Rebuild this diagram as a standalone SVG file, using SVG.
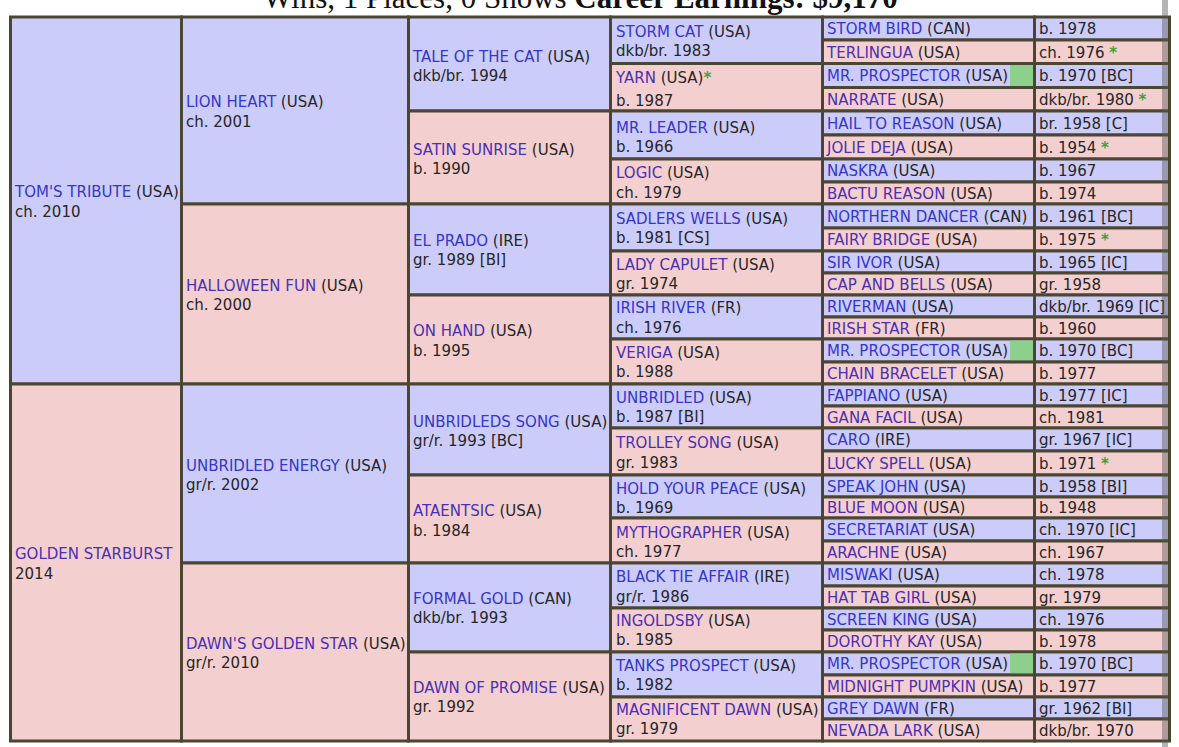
<svg xmlns="http://www.w3.org/2000/svg" width="1179" height="747" viewBox="0 0 1179 747">
<style>
rect.b{fill:#ccccfb;stroke:#4a4632;stroke-width:3}
rect.p{fill:#f4cfcf;stroke:#4a4632;stroke-width:3}
rect.g{fill:#8dcf8d;stroke:none}
text{font-family:"DejaVu Sans",Verdana,sans-serif;font-size:15px;fill:#262626}
.nb{fill:#3636c8}
.np{fill:#4a30b4}
.s{fill:#3f9f3f;font-weight:bold}
.t{font-family:"Liberation Serif","Times New Roman",serif;font-size:31px;fill:#111}
</style>
<rect width="1179" height="747" fill="#ffffff"/>
<text class="t" x="263" y="8">Wins, 1 Places, 0 Shows <tspan font-weight="bold">Career Earnings: $9,170</tspan></text>

<g id="gen1">
<g id="toms-tribute"><rect class="b" x="10.5" y="17" width="171" height="367"/><text x="15" y="196.5"><tspan class="nb">TOM'S TRIBUTE</tspan> (USA)</text><text x="15" y="216.5">ch. 2010</text></g>
<g id="golden-starburst"><rect class="p" x="10.5" y="384" width="171" height="357"/><text x="15" y="558.5"><tspan class="np">GOLDEN STARBURST</tspan></text><text x="15" y="578.5">2014</text></g>
</g>

<g id="gen2">
<g id="lion-heart"><rect class="b" x="181.5" y="17" width="227" height="187"/><text x="186" y="106.5"><tspan class="nb">LION HEART</tspan> (USA)</text><text x="186" y="126.5">ch. 2001</text></g>
<g id="halloween-fun"><rect class="p" x="181.5" y="204" width="227" height="180"/><text x="186" y="290.5"><tspan class="np">HALLOWEEN FUN</tspan> (USA)</text><text x="186" y="309.5">ch. 2000</text></g>
<g id="unbridled-energy"><rect class="b" x="181.5" y="384" width="227" height="179"/><text x="186" y="470.5"><tspan class="nb">UNBRIDLED ENERGY</tspan> (USA)</text><text x="186" y="489.5">gr/r. 2002</text></g>
<g id="dawns-golden-star"><rect class="p" x="181.5" y="563" width="227" height="178"/><text x="186" y="648.5"><tspan class="np">DAWN'S GOLDEN STAR</tspan> (USA)</text><text x="186" y="667.5">gr/r. 2010</text></g>
</g>

<g id="gen3">
<g id="tale-of-the-cat"><rect class="b" x="408.5" y="17" width="202" height="94"/><text x="413" y="61.5"><tspan class="nb">TALE OF THE CAT</tspan> (USA)</text><text x="413" y="80.5">dkb/br. 1994</text></g>
<g id="satin-sunrise"><rect class="p" x="408.5" y="111" width="202" height="93"/><text x="413" y="154.5"><tspan class="np">SATIN SUNRISE</tspan> (USA)</text><text x="413" y="173.5">b. 1990</text></g>
<g id="el-prado"><rect class="b" x="408.5" y="204" width="202" height="91"/><text x="413" y="245.5"><tspan class="nb">EL PRADO</tspan> (IRE)</text><text x="413" y="264.5">gr. 1989 [BI]</text></g>
<g id="on-hand"><rect class="p" x="408.5" y="295" width="202" height="89"/><text x="413" y="335.5"><tspan class="np">ON HAND</tspan> (USA)</text><text x="413" y="355.5">b. 1995</text></g>
<g id="unbridleds-song"><rect class="b" x="408.5" y="384" width="202" height="91"/><text x="413" y="426.5"><tspan class="nb">UNBRIDLEDS SONG</tspan> (USA)</text><text x="413" y="445.5">gr/r. 1993 [BC]</text></g>
<g id="ataentsic"><rect class="p" x="408.5" y="475" width="202" height="88"/><text x="413" y="515.5"><tspan class="np">ATAENTSIC</tspan> (USA)</text><text x="413" y="535.5">b. 1984</text></g>
<g id="formal-gold"><rect class="b" x="408.5" y="563" width="202" height="89"/><text x="413" y="603.5"><tspan class="nb">FORMAL GOLD</tspan> (CAN)</text><text x="413" y="622.5">dkb/br. 1993</text></g>
<g id="dawn-of-promise"><rect class="p" x="408.5" y="652" width="202" height="89"/><text x="413" y="692.5"><tspan class="np">DAWN OF PROMISE</tspan> (USA)</text><text x="413" y="711.5">gr. 1992</text></g>
</g>

<g id="gen4">
<g id="storm-cat"><rect class="b" x="610.5" y="17" width="212" height="46.5"/><text x="616" y="36.5"><tspan class="nb">STORM CAT</tspan> (USA)</text><text x="616" y="55.5">dkb/br. 1983</text></g>
<g id="yarn"><rect class="p" x="610.5" y="63.5" width="212" height="47.5"/><text x="616" y="82.5"><tspan class="np">YARN</tspan> (USA)<tspan class="s">*</tspan></text><text x="616" y="105.5">b. 1987</text></g>
<g id="mr-leader"><rect class="b" x="610.5" y="111" width="212" height="48"/><text x="616" y="132.5"><tspan class="nb">MR. LEADER</tspan> (USA)</text><text x="616" y="151.5">b. 1966</text></g>
<g id="logic"><rect class="p" x="610.5" y="159" width="212" height="45"/><text x="616" y="177.5"><tspan class="np">LOGIC</tspan> (USA)</text><text x="616" y="197.5">ch. 1979</text></g>
<g id="sadlers-wells"><rect class="b" x="610.5" y="204" width="212" height="47"/><text x="616" y="223.5"><tspan class="nb">SADLERS WELLS</tspan> (USA)</text><text x="616" y="242.5">b. 1981 [CS]</text></g>
<g id="lady-capulet"><rect class="p" x="610.5" y="251" width="212" height="44"/><text x="616" y="269.5"><tspan class="np">LADY CAPULET</tspan> (USA)</text><text x="616" y="288.5">gr. 1974</text></g>
<g id="irish-river"><rect class="b" x="610.5" y="295" width="212" height="44"/><text x="616" y="312.5"><tspan class="nb">IRISH RIVER</tspan> (FR)</text><text x="616" y="332.5">ch. 1976</text></g>
<g id="veriga"><rect class="p" x="610.5" y="339" width="212" height="45"/><text x="616" y="357.5"><tspan class="np">VERIGA</tspan> (USA)</text><text x="616" y="376.5">b. 1988</text></g>
<g id="unbridled"><rect class="b" x="610.5" y="384" width="212" height="44"/><text x="616" y="402.5"><tspan class="nb">UNBRIDLED</tspan> (USA)</text><text x="616" y="421.5">b. 1987 [BI]</text></g>
<g id="trolley-song"><rect class="p" x="610.5" y="428" width="212" height="47"/><text x="616" y="447.5"><tspan class="np">TROLLEY SONG</tspan> (USA)</text><text x="616" y="467.5">gr. 1983</text></g>
<g id="hold-your-peace"><rect class="b" x="610.5" y="475" width="212" height="43"/><text x="616" y="493.5"><tspan class="nb">HOLD YOUR PEACE</tspan> (USA)</text><text x="616" y="512.5">b. 1969</text></g>
<g id="mythographer"><rect class="p" x="610.5" y="518" width="212" height="45"/><text x="616" y="537.5"><tspan class="np">MYTHOGRAPHER</tspan> (USA)</text><text x="616" y="556.5">ch. 1977</text></g>
<g id="black-tie-affair"><rect class="b" x="610.5" y="563" width="212" height="45"/><text x="616" y="581.5"><tspan class="nb">BLACK TIE AFFAIR</tspan> (IRE)</text><text x="616" y="601.5">gr/r. 1986</text></g>
<g id="ingoldsby"><rect class="p" x="610.5" y="608" width="212" height="44"/><text x="616" y="625.5"><tspan class="np">INGOLDSBY</tspan> (USA)</text><text x="616" y="644.5">b. 1985</text></g>
<g id="tanks-prospect"><rect class="b" x="610.5" y="652" width="212" height="45"/><text x="616" y="670.5"><tspan class="nb">TANKS PROSPECT</tspan> (USA)</text><text x="616" y="689.5">b. 1982</text></g>
<g id="magnificent-dawn"><rect class="p" x="610.5" y="697" width="212" height="44"/><text x="616" y="714.5"><tspan class="np">MAGNIFICENT DAWN</tspan> (USA)</text><text x="616" y="733.5">gr. 1979</text></g>
</g>

<g id="gen5">
<g id="storm-bird"><rect class="b" x="822.5" y="17" width="212" height="23"/><rect class="b" x="1034.5" y="17" width="135" height="23"/><text x="827" y="34"><tspan class="nb">STORM BIRD</tspan> (CAN)</text><text x="1039" y="34">b. 1978</text></g>
<g id="terlingua"><rect class="p" x="822.5" y="40" width="212" height="23.5"/><rect class="p" x="1034.5" y="40" width="135" height="23.5"/><text x="827" y="57.5"><tspan class="np">TERLINGUA</tspan> (USA)</text><text x="1039" y="57.5">ch. 1976 <tspan class="s">*</tspan></text></g>
<g id="mr-prospector-1"><rect class="b" x="822.5" y="63.5" width="212" height="24"/><rect class="g" x="1010" y="65" width="23" height="21"/><rect class="b" x="1034.5" y="63.5" width="135" height="24"/><text x="827" y="81"><tspan class="nb">MR. PROSPECTOR</tspan> (USA)</text><text x="1039" y="81">b. 1970 [BC]</text></g>
<g id="narrate"><rect class="p" x="822.5" y="87.5" width="212" height="23.5"/><rect class="p" x="1034.5" y="87.5" width="135" height="23.5"/><text x="827" y="105"><tspan class="np">NARRATE</tspan> (USA)</text><text x="1039" y="105">dkb/br. 1980 <tspan class="s">*</tspan></text></g>
<g id="hail-to-reason"><rect class="b" x="822.5" y="111" width="212" height="24"/><rect class="b" x="1034.5" y="111" width="135" height="24"/><text x="827" y="128.5"><tspan class="nb">HAIL TO REASON</tspan> (USA)</text><text x="1039" y="128.5">br. 1958 [C]</text></g>
<g id="jolie-deja"><rect class="p" x="822.5" y="135" width="212" height="24"/><rect class="p" x="1034.5" y="135" width="135" height="24"/><text x="827" y="152.5"><tspan class="np">JOLIE DEJA</tspan> (USA)</text><text x="1039" y="152.5">b. 1954 <tspan class="s">*</tspan></text></g>
<g id="naskra"><rect class="b" x="822.5" y="159" width="212" height="23"/><rect class="b" x="1034.5" y="159" width="135" height="23"/><text x="827" y="176"><tspan class="nb">NASKRA</tspan> (USA)</text><text x="1039" y="176">b. 1967</text></g>
<g id="bactu-reason"><rect class="p" x="822.5" y="182" width="212" height="22"/><rect class="p" x="1034.5" y="182" width="135" height="22"/><text x="827" y="198.5"><tspan class="np">BACTU REASON</tspan> (USA)</text><text x="1039" y="198.5">b. 1974</text></g>
<g id="northern-dancer"><rect class="b" x="822.5" y="204" width="212" height="24"/><rect class="b" x="1034.5" y="204" width="135" height="24"/><text x="827" y="221.5"><tspan class="nb">NORTHERN DANCER</tspan> (CAN)</text><text x="1039" y="221.5">b. 1961 [BC]</text></g>
<g id="fairy-bridge"><rect class="p" x="822.5" y="228" width="212" height="23"/><rect class="p" x="1034.5" y="228" width="135" height="23"/><text x="827" y="245"><tspan class="np">FAIRY BRIDGE</tspan> (USA)</text><text x="1039" y="245">b. 1975 <tspan class="s">*</tspan></text></g>
<g id="sir-ivor"><rect class="b" x="822.5" y="251" width="212" height="22"/><rect class="b" x="1034.5" y="251" width="135" height="22"/><text x="827" y="267.5"><tspan class="nb">SIR IVOR</tspan> (USA)</text><text x="1039" y="267.5">b. 1965 [IC]</text></g>
<g id="cap-and-bells"><rect class="p" x="822.5" y="273" width="212" height="22"/><rect class="p" x="1034.5" y="273" width="135" height="22"/><text x="827" y="289.5"><tspan class="np">CAP AND BELLS</tspan> (USA)</text><text x="1039" y="289.5">gr. 1958</text></g>
<g id="riverman"><rect class="b" x="822.5" y="295" width="212" height="22"/><rect class="b" x="1034.5" y="295" width="135" height="22"/><text x="827" y="311.5"><tspan class="nb">RIVERMAN</tspan> (USA)</text><text x="1039" y="311.5">dkb/br. 1969 [IC]</text></g>
<g id="irish-star"><rect class="p" x="822.5" y="317" width="212" height="22"/><rect class="p" x="1034.5" y="317" width="135" height="22"/><text x="827" y="333.5"><tspan class="np">IRISH STAR</tspan> (FR)</text><text x="1039" y="333.5">b. 1960</text></g>
<g id="mr-prospector-2"><rect class="b" x="822.5" y="339" width="212" height="23"/><rect class="g" x="1010" y="340.5" width="23" height="20"/><rect class="b" x="1034.5" y="339" width="135" height="23"/><text x="827" y="356"><tspan class="nb">MR. PROSPECTOR</tspan> (USA)</text><text x="1039" y="356">b. 1970 [BC]</text></g>
<g id="chain-bracelet"><rect class="p" x="822.5" y="362" width="212" height="22"/><rect class="p" x="1034.5" y="362" width="135" height="22"/><text x="827" y="378.5"><tspan class="np">CHAIN BRACELET</tspan> (USA)</text><text x="1039" y="378.5">b. 1977</text></g>
<g id="fappiano"><rect class="b" x="822.5" y="384" width="212" height="22"/><rect class="b" x="1034.5" y="384" width="135" height="22"/><text x="827" y="400.5"><tspan class="nb">FAPPIANO</tspan> (USA)</text><text x="1039" y="400.5">b. 1977 [IC]</text></g>
<g id="gana-facil"><rect class="p" x="822.5" y="406" width="212" height="22"/><rect class="p" x="1034.5" y="406" width="135" height="22"/><text x="827" y="422.5"><tspan class="np">GANA FACIL</tspan> (USA)</text><text x="1039" y="422.5">ch. 1981</text></g>
<g id="caro"><rect class="b" x="822.5" y="428" width="212" height="23"/><rect class="b" x="1034.5" y="428" width="135" height="23"/><text x="827" y="445"><tspan class="nb">CARO</tspan> (IRE)</text><text x="1039" y="445">gr. 1967 [IC]</text></g>
<g id="lucky-spell"><rect class="p" x="822.5" y="451" width="212" height="24"/><rect class="p" x="1034.5" y="451" width="135" height="24"/><text x="827" y="468.5"><tspan class="np">LUCKY SPELL</tspan> (USA)</text><text x="1039" y="468.5">b. 1971 <tspan class="s">*</tspan></text></g>
<g id="speak-john"><rect class="b" x="822.5" y="475" width="212" height="22"/><rect class="b" x="1034.5" y="475" width="135" height="22"/><text x="827" y="491.5"><tspan class="nb">SPEAK JOHN</tspan> (USA)</text><text x="1039" y="491.5">b. 1958 [BI]</text></g>
<g id="blue-moon"><rect class="p" x="822.5" y="497" width="212" height="21"/><rect class="p" x="1034.5" y="497" width="135" height="21"/><text x="827" y="513"><tspan class="np">BLUE MOON</tspan> (USA)</text><text x="1039" y="513">b. 1948</text></g>
<g id="secretariat"><rect class="b" x="822.5" y="518" width="212" height="23"/><rect class="b" x="1034.5" y="518" width="135" height="23"/><text x="827" y="535"><tspan class="nb">SECRETARIAT</tspan> (USA)</text><text x="1039" y="535">ch. 1970 [IC]</text></g>
<g id="arachne"><rect class="p" x="822.5" y="541" width="212" height="22"/><rect class="p" x="1034.5" y="541" width="135" height="22"/><text x="827" y="557.5"><tspan class="np">ARACHNE</tspan> (USA)</text><text x="1039" y="557.5">ch. 1967</text></g>
<g id="miswaki"><rect class="b" x="822.5" y="563" width="212" height="23"/><rect class="b" x="1034.5" y="563" width="135" height="23"/><text x="827" y="580"><tspan class="nb">MISWAKI</tspan> (USA)</text><text x="1039" y="580">ch. 1978</text></g>
<g id="hat-tab-girl"><rect class="p" x="822.5" y="586" width="212" height="22"/><rect class="p" x="1034.5" y="586" width="135" height="22"/><text x="827" y="602.5"><tspan class="np">HAT TAB GIRL</tspan> (USA)</text><text x="1039" y="602.5">gr. 1979</text></g>
<g id="screen-king"><rect class="b" x="822.5" y="608" width="212" height="22"/><rect class="b" x="1034.5" y="608" width="135" height="22"/><text x="827" y="624.5"><tspan class="nb">SCREEN KING</tspan> (USA)</text><text x="1039" y="624.5">ch. 1976</text></g>
<g id="dorothy-kay"><rect class="p" x="822.5" y="630" width="212" height="22"/><rect class="p" x="1034.5" y="630" width="135" height="22"/><text x="827" y="646.5"><tspan class="np">DOROTHY KAY</tspan> (USA)</text><text x="1039" y="646.5">b. 1978</text></g>
<g id="mr-prospector-3"><rect class="b" x="822.5" y="652" width="212" height="23"/><rect class="g" x="1010" y="653.5" width="23" height="20"/><rect class="b" x="1034.5" y="652" width="135" height="23"/><text x="827" y="669"><tspan class="nb">MR. PROSPECTOR</tspan> (USA)</text><text x="1039" y="669">b. 1970 [BC]</text></g>
<g id="midnight-pumpkin"><rect class="p" x="822.5" y="675" width="212" height="22"/><rect class="p" x="1034.5" y="675" width="135" height="22"/><text x="827" y="691.5"><tspan class="np">MIDNIGHT PUMPKIN</tspan> (USA)</text><text x="1039" y="691.5">b. 1977</text></g>
<g id="grey-dawn"><rect class="b" x="822.5" y="697" width="212" height="22"/><rect class="b" x="1034.5" y="697" width="135" height="22"/><text x="827" y="713.5"><tspan class="nb">GREY DAWN</tspan> (FR)</text><text x="1039" y="713.5">gr. 1962 [BI]</text></g>
<g id="nevada-lark"><rect class="p" x="822.5" y="719" width="212" height="22"/><rect class="p" x="1034.5" y="719" width="135" height="22"/><text x="827" y="735.5"><tspan class="np">NEVADA LARK</tspan> (USA)</text><text x="1039" y="735.5">dkb/br. 1970</text></g>
</g>

<g id="connectors"/>
<rect id="scrollbar" x="1162" y="0" width="6" height="747" fill="#5a5a5a" opacity="0.45"/>
</svg>
